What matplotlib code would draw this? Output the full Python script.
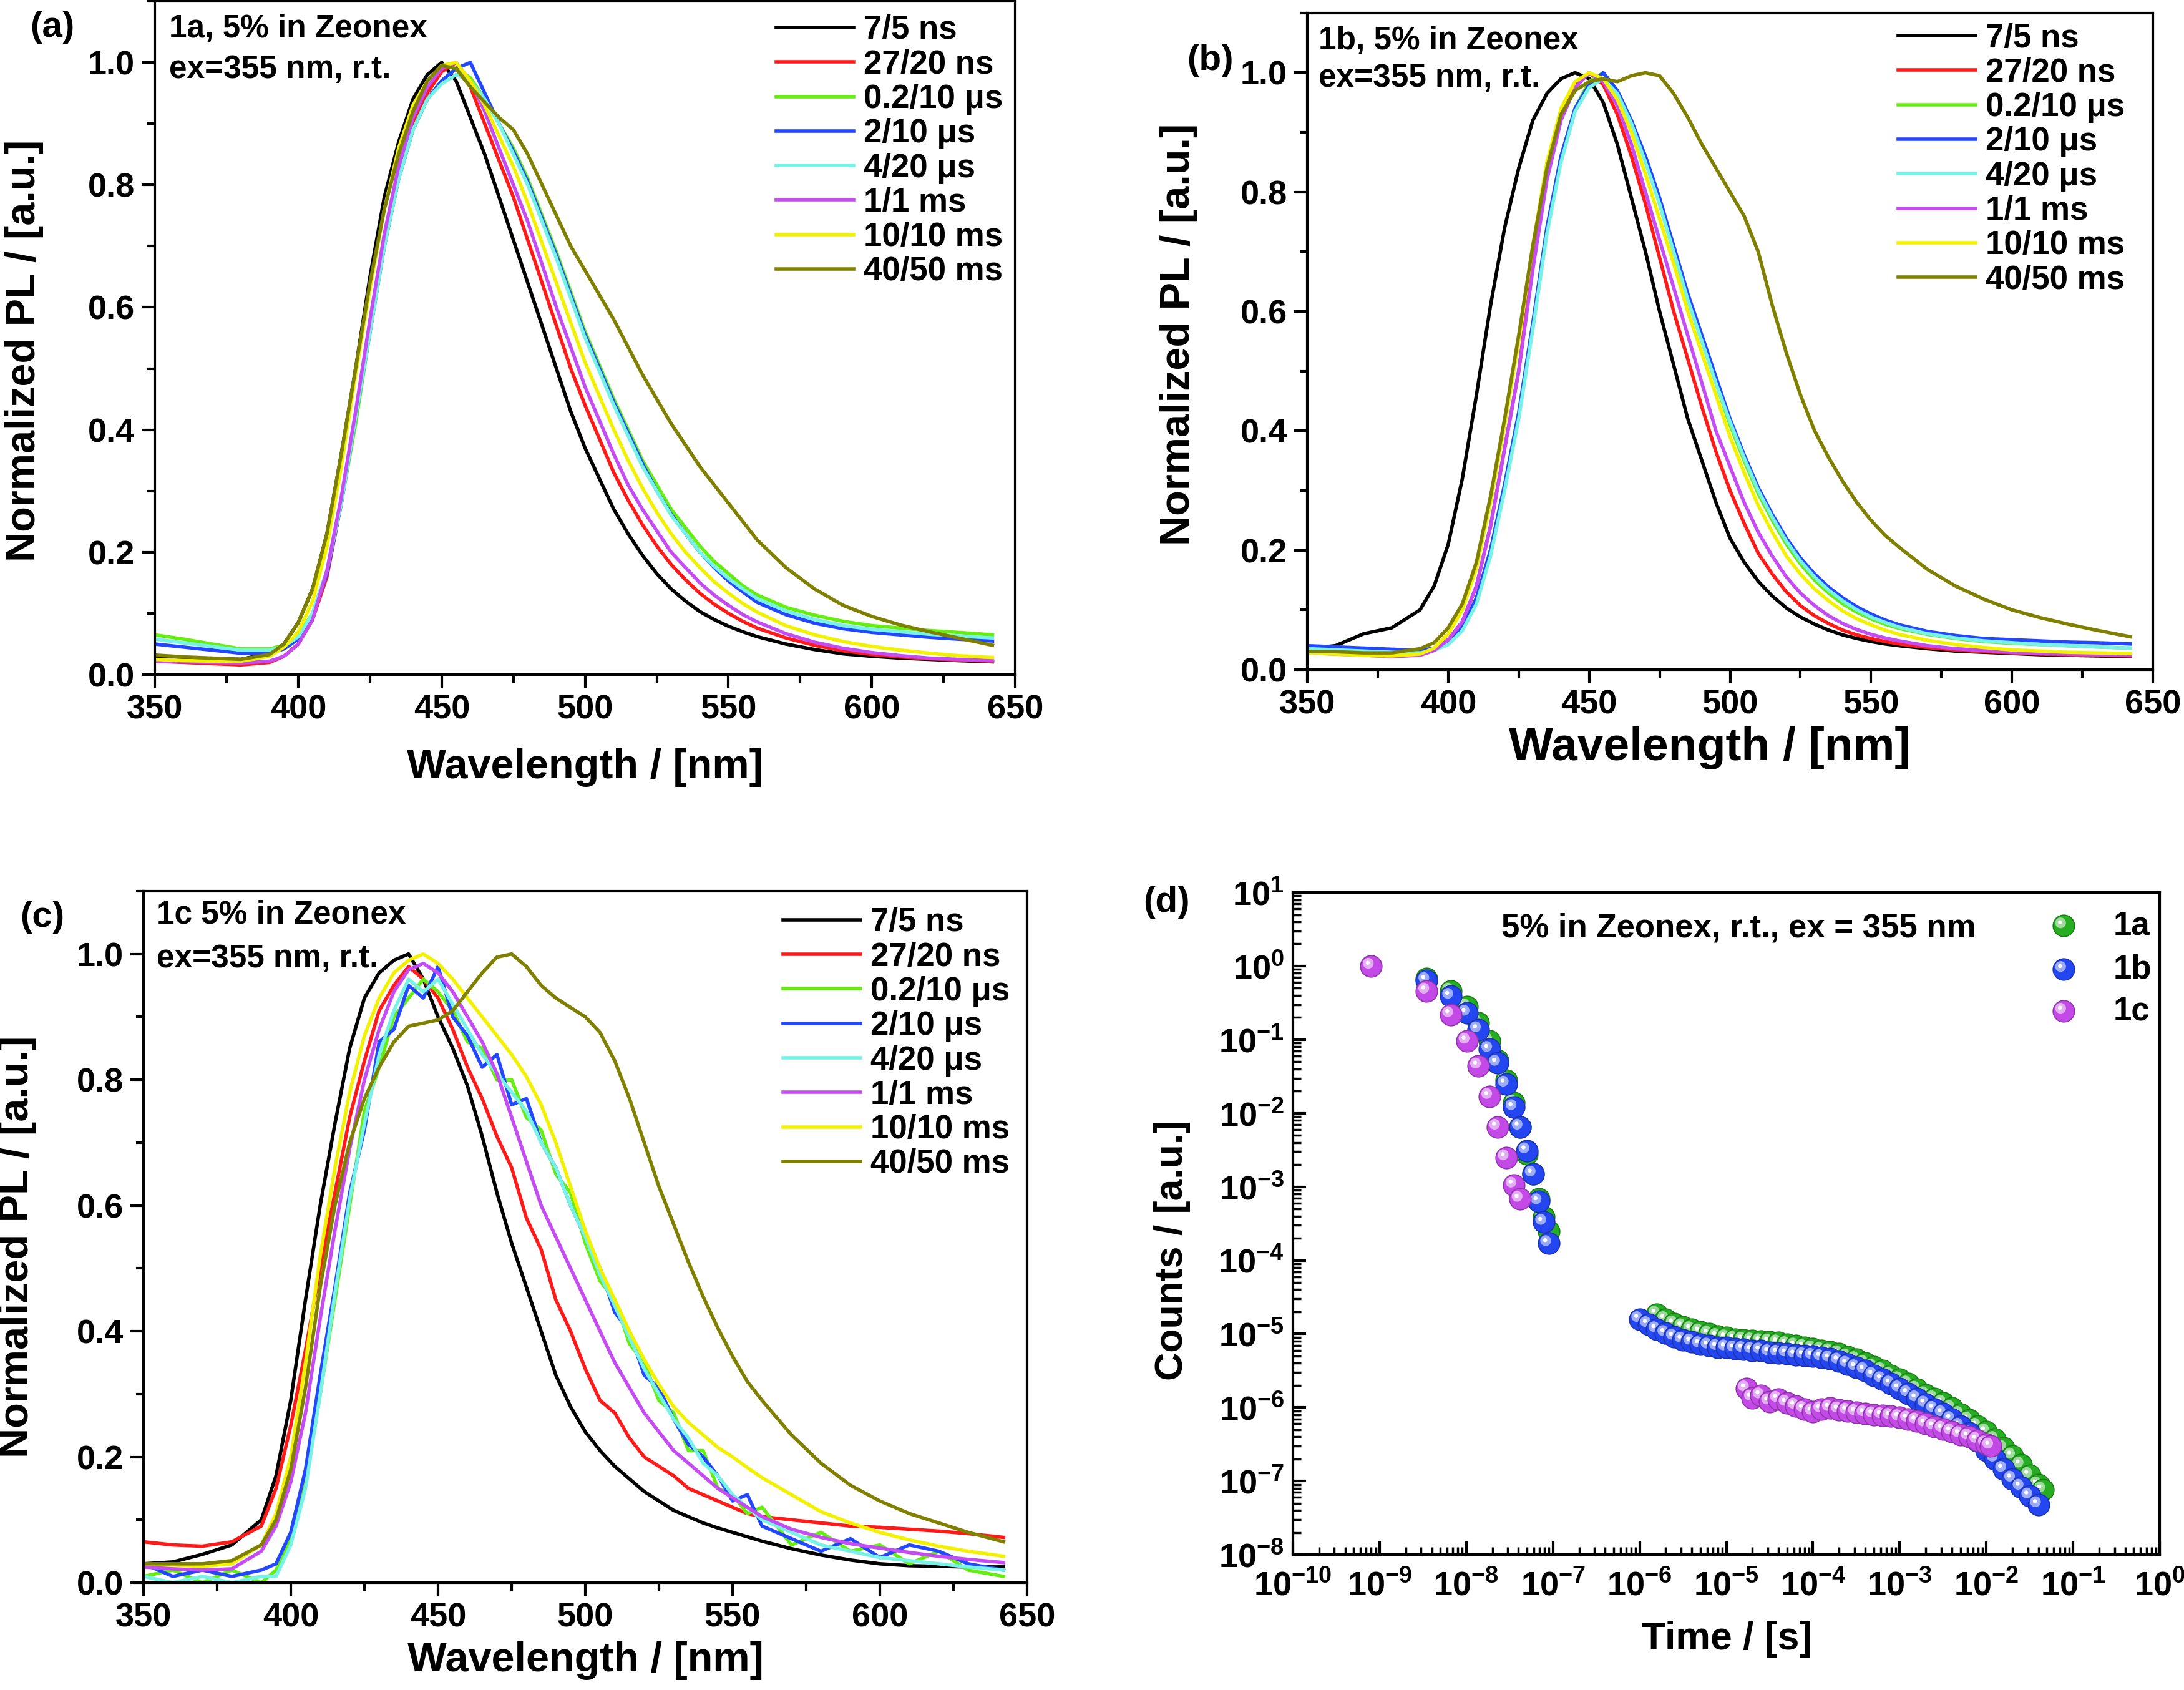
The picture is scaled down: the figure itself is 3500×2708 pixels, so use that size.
import numpy as np
import matplotlib
matplotlib.use("Agg")
import matplotlib.pyplot as plt
import matplotlib.colors as mcolors
import matplotlib.transforms as mtransforms
from matplotlib.ticker import MultipleLocator, LogLocator, NullFormatter, FormatStrFormatter

plt.rcParams['font.family'] = ['Liberation Sans', 'DejaVu Sans']
plt.rcParams['font.weight'] = 'bold'
plt.rcParams['mathtext.default'] = 'regular'
plt.rcParams['axes.linewidth'] = 3.0

# ---------------- spectra data ----------------
wl = [350, 360, 370, 380,
      390, 395, 400, 405, 410, 415, 420, 425, 430, 435, 440, 445, 450, 455, 460, 465, 470, 475,
      480, 485, 490, 495, 500, 505, 510, 515, 520, 525, 530, 535, 540, 545, 550, 555, 560,
      570, 580, 590, 600, 610, 620, 630, 642]

labels = ['7/5 ns', '27/20 ns', '0.2/10 μs', '2/10 μs', '4/20 μs', '1/1 ms', '10/10 ms', '40/50 ms']
line_colors = ['#000000', '#ff1a1a', '#66ee11', '#2347ff', '#77f2e6', '#c54cf2', '#f2f200', '#808000']

# panel (a) 1a
a_7ns = [0.030, 0.028, 0.026, 0.025,
         0.035, 0.050, 0.085, 0.14, 0.23, 0.36, 0.50, 0.65, 0.78, 0.87, 0.94, 0.98, 1.00, 0.97, 0.91, 0.85, 0.78, 0.71,
         0.64, 0.57, 0.50, 0.43, 0.37, 0.32, 0.27, 0.23, 0.195, 0.165, 0.14, 0.12, 0.103, 0.09, 0.079, 0.07, 0.062,
         0.050, 0.041, 0.034, 0.030, 0.027, 0.025, 0.023, 0.021]
a_27ns = [0.022, 0.020, 0.018, 0.016,
          0.020, 0.030, 0.050, 0.09, 0.16, 0.28, 0.42, 0.57, 0.71, 0.82, 0.90, 0.95, 0.985, 1.00, 0.96, 0.90, 0.84, 0.78,
          0.71, 0.64, 0.57, 0.50, 0.44, 0.385, 0.33, 0.285, 0.245, 0.21, 0.18, 0.155, 0.133, 0.115, 0.10, 0.087, 0.076,
          0.060, 0.048, 0.039, 0.033, 0.029, 0.026, 0.024, 0.022]
a_02us = [0.065, 0.058, 0.050, 0.042,
          0.042, 0.048, 0.065, 0.10, 0.17, 0.28, 0.41, 0.56, 0.70, 0.81, 0.89, 0.94, 0.97, 0.99, 0.975, 0.94, 0.90, 0.86,
          0.81, 0.75, 0.69, 0.625, 0.56, 0.505, 0.45, 0.40, 0.35, 0.31, 0.27, 0.24, 0.21, 0.185, 0.165, 0.145, 0.13,
          0.110, 0.097, 0.087, 0.080, 0.076, 0.072, 0.069, 0.065]
a_2us = [0.050, 0.045, 0.040, 0.035,
         0.035, 0.042, 0.058, 0.095, 0.165, 0.28, 0.42, 0.56, 0.70, 0.81, 0.89, 0.94, 0.97, 0.99, 1.00, 0.95, 0.90, 0.855,
         0.805, 0.745, 0.685, 0.62, 0.555, 0.50, 0.445, 0.395, 0.345, 0.30, 0.262, 0.23, 0.20, 0.175, 0.153, 0.135, 0.118,
         0.098, 0.084, 0.075, 0.069, 0.065, 0.061, 0.058, 0.055]
a_4us = [0.058, 0.052, 0.046, 0.040,
         0.040, 0.046, 0.062, 0.10, 0.17, 0.28, 0.42, 0.56, 0.70, 0.81, 0.89, 0.94, 0.965, 0.98, 0.97, 0.94, 0.90, 0.85,
         0.80, 0.74, 0.68, 0.615, 0.55, 0.495, 0.44, 0.39, 0.34, 0.30, 0.26, 0.23, 0.20, 0.177, 0.157, 0.14, 0.124,
         0.104, 0.090, 0.080, 0.074, 0.070, 0.066, 0.063, 0.060]
a_1ms = [0.022, 0.021, 0.020, 0.019,
         0.022, 0.030, 0.050, 0.09, 0.17, 0.29, 0.43, 0.58, 0.72, 0.83, 0.91, 0.96, 0.99, 1.00, 0.97, 0.92, 0.86, 0.80,
         0.74, 0.67, 0.60, 0.535, 0.47, 0.415, 0.36, 0.31, 0.27, 0.235, 0.20, 0.175, 0.15, 0.13, 0.113, 0.098, 0.086,
         0.067, 0.053, 0.043, 0.036, 0.031, 0.027, 0.025, 0.023]
a_10ms = [0.025, 0.023, 0.022, 0.022,
          0.030, 0.045, 0.070, 0.12, 0.21, 0.34, 0.49, 0.63, 0.76, 0.86, 0.93, 0.97, 0.995, 1.00, 0.97, 0.93, 0.88, 0.83,
          0.77, 0.705, 0.64, 0.575, 0.51, 0.455, 0.40, 0.35, 0.305, 0.265, 0.23, 0.20, 0.175, 0.152, 0.133, 0.116, 0.102,
          0.080, 0.065, 0.054, 0.046, 0.040, 0.035, 0.031, 0.028]
a_40ms = [0.032, 0.029, 0.027, 0.025,
          0.033, 0.050, 0.085, 0.14, 0.23, 0.36, 0.50, 0.64, 0.76, 0.85, 0.92, 0.97, 0.995, 0.99, 0.96, 0.935, 0.91, 0.89,
          0.85, 0.80, 0.75, 0.70, 0.66, 0.62, 0.58, 0.535, 0.49, 0.45, 0.41, 0.375, 0.34, 0.31, 0.28, 0.25, 0.22,
          0.175, 0.140, 0.113, 0.095, 0.081, 0.070, 0.060, 0.048]

# panel (b) 1b
b_7ns = [0.035, 0.040, 0.060, 0.070,
         0.10, 0.14, 0.21, 0.32, 0.46, 0.61, 0.74, 0.84, 0.92, 0.965, 0.99, 1.00, 0.99, 0.95, 0.88, 0.79, 0.70, 0.60,
         0.51, 0.42, 0.35, 0.28, 0.22, 0.18, 0.148, 0.123, 0.103, 0.088, 0.076, 0.066, 0.058, 0.052, 0.047, 0.043, 0.040,
         0.035, 0.031, 0.029, 0.027, 0.025, 0.024, 0.023, 0.022]
b_27ns = [0.030, 0.028, 0.025, 0.022,
          0.025, 0.035, 0.050, 0.08, 0.14, 0.24, 0.37, 0.50, 0.68, 0.83, 0.93, 0.98, 1.00, 0.98, 0.93, 0.86, 0.78, 0.69,
          0.60, 0.52, 0.44, 0.365, 0.30, 0.245, 0.195, 0.16, 0.13, 0.107, 0.09, 0.077, 0.066, 0.058, 0.052, 0.047, 0.043,
          0.037, 0.033, 0.030, 0.028, 0.026, 0.025, 0.024, 0.023]
b_02us = [0.035, 0.033, 0.030, 0.028,
          0.028, 0.033, 0.045, 0.07, 0.12, 0.20, 0.31, 0.43, 0.58, 0.74, 0.86, 0.94, 0.985, 1.00, 0.97, 0.92, 0.855, 0.78,
          0.70, 0.62, 0.55, 0.48, 0.41, 0.35, 0.295, 0.25, 0.21, 0.177, 0.15, 0.128, 0.11, 0.096, 0.085, 0.076, 0.069,
          0.059, 0.052, 0.047, 0.044, 0.042, 0.040, 0.038, 0.036]
b_2us = [0.040, 0.038, 0.036, 0.034,
         0.032, 0.036, 0.046, 0.07, 0.12, 0.20, 0.31, 0.43, 0.58, 0.74, 0.86, 0.94, 0.98, 1.00, 0.97, 0.92, 0.86, 0.79,
         0.71, 0.63, 0.56, 0.49, 0.42, 0.36, 0.305, 0.26, 0.22, 0.187, 0.16, 0.138, 0.12, 0.105, 0.093, 0.083, 0.075,
         0.064, 0.057, 0.052, 0.050, 0.048, 0.046, 0.045, 0.043]
b_4us = [0.035, 0.033, 0.031, 0.029,
         0.028, 0.032, 0.042, 0.065, 0.11, 0.19, 0.30, 0.42, 0.57, 0.73, 0.85, 0.935, 0.975, 0.99, 0.965, 0.915, 0.85, 0.78,
         0.70, 0.62, 0.55, 0.48, 0.415, 0.355, 0.30, 0.255, 0.215, 0.182, 0.155, 0.133, 0.115, 0.10, 0.088, 0.079, 0.071,
         0.060, 0.053, 0.048, 0.045, 0.042, 0.040, 0.038, 0.036]
b_1ms = [0.028, 0.026, 0.024, 0.022,
         0.024, 0.032, 0.050, 0.08, 0.14, 0.24, 0.37, 0.50, 0.67, 0.82, 0.92, 0.975, 1.00, 0.985, 0.945, 0.88, 0.80, 0.72,
         0.64, 0.56, 0.48, 0.40, 0.34, 0.28, 0.23, 0.19, 0.155, 0.128, 0.107, 0.09, 0.077, 0.067, 0.059, 0.053, 0.048,
         0.040, 0.035, 0.032, 0.029, 0.027, 0.026, 0.025, 0.024]
b_10ms = [0.028, 0.026, 0.024, 0.023,
          0.026, 0.036, 0.060, 0.10, 0.17, 0.28, 0.41, 0.55, 0.71, 0.85, 0.94, 0.985, 1.00, 0.99, 0.955, 0.90, 0.83, 0.755,
          0.68, 0.60, 0.53, 0.46, 0.39, 0.33, 0.275, 0.23, 0.19, 0.16, 0.135, 0.115, 0.098, 0.085, 0.075, 0.066, 0.059,
          0.049, 0.042, 0.037, 0.033, 0.031, 0.029, 0.028, 0.027]
b_40ms = [0.030, 0.030, 0.028, 0.028,
          0.035, 0.045, 0.070, 0.11, 0.18, 0.29, 0.42, 0.56, 0.71, 0.84, 0.93, 0.97, 0.985, 0.99, 0.985, 0.995, 1.00, 0.995,
          0.965, 0.925, 0.88, 0.84, 0.80, 0.76, 0.70, 0.61, 0.53, 0.46, 0.40, 0.355, 0.315, 0.28, 0.25, 0.225, 0.205,
          0.168, 0.140, 0.118, 0.100, 0.087, 0.076, 0.066, 0.055]

# panel (c) 1c
c_7ns = [0.030, 0.033, 0.045, 0.060,
         0.10, 0.17, 0.29, 0.45, 0.60, 0.73, 0.85, 0.93, 0.97, 0.99, 1.00, 0.96, 0.90, 0.85, 0.79, 0.71, 0.62, 0.54,
         0.47, 0.40, 0.33, 0.28, 0.24, 0.21, 0.185, 0.165, 0.145, 0.13, 0.115, 0.105, 0.095, 0.087, 0.08, 0.073, 0.066,
         0.054, 0.044, 0.036, 0.030, 0.027, 0.026, 0.025, 0.025]
c_27ns = [0.065, 0.060, 0.058, 0.065,
          0.09, 0.15, 0.25, 0.37, 0.50, 0.62, 0.74, 0.83, 0.91, 0.95, 0.98, 0.96, 0.93, 0.88, 0.82, 0.77, 0.71, 0.66,
          0.58, 0.53, 0.45, 0.40, 0.34, 0.29, 0.27, 0.23, 0.20, 0.185, 0.17, 0.15, 0.14, 0.13, 0.12, 0.11, 0.105,
          0.100, 0.095, 0.090, 0.088, 0.085, 0.082, 0.078, 0.072]
c_02us = [0.010, 0.020, 0.000, 0.020,
          0.00, 0.02, 0.07, 0.16, 0.30, 0.45, 0.60, 0.75, 0.82, 0.90, 0.93, 0.96, 0.94, 0.91, 0.86, 0.85, 0.80, 0.80,
          0.74, 0.72, 0.65, 0.62, 0.54, 0.48, 0.45, 0.38, 0.35, 0.29, 0.27, 0.21, 0.21, 0.15, 0.14, 0.11, 0.12,
          0.06, 0.08, 0.05, 0.06, 0.03, 0.05, 0.02, 0.01]
c_2us = [0.030, 0.010, 0.020, 0.010,
         0.02, 0.03, 0.08, 0.18, 0.33, 0.47, 0.62, 0.72, 0.86, 0.88, 0.95, 0.93, 0.98, 0.90, 0.87, 0.82, 0.84, 0.76,
         0.77, 0.70, 0.66, 0.60, 0.55, 0.50, 0.43, 0.40, 0.33, 0.31, 0.26, 0.22, 0.20, 0.17, 0.13, 0.14, 0.09,
         0.07, 0.05, 0.07, 0.04, 0.06, 0.05, 0.03, 0.02]
c_4us = [0.010, 0.000, 0.010, 0.000,
         0.01, 0.01, 0.06, 0.15, 0.30, 0.46, 0.61, 0.73, 0.84, 0.91, 0.96, 0.94, 0.96, 0.92, 0.88, 0.84, 0.81, 0.78,
         0.75, 0.70, 0.66, 0.60, 0.55, 0.49, 0.44, 0.39, 0.34, 0.30, 0.26, 0.23, 0.19, 0.17, 0.14, 0.12, 0.10,
         0.08, 0.06, 0.05, 0.04, 0.035, 0.03, 0.025, 0.02]
c_1ms = [0.025, 0.022, 0.020, 0.022,
         0.05, 0.09, 0.16, 0.27, 0.42, 0.56, 0.69, 0.80, 0.88, 0.94, 0.975, 0.985, 0.97, 0.94, 0.90, 0.86, 0.81, 0.74,
         0.67, 0.60, 0.55, 0.50, 0.45, 0.40, 0.35, 0.31, 0.27, 0.24, 0.21, 0.19, 0.17, 0.15, 0.135, 0.12, 0.105,
         0.085, 0.072, 0.062, 0.055, 0.048, 0.042, 0.037, 0.032]
c_10ms = [0.030, 0.028, 0.026, 0.030,
          0.06, 0.11, 0.20, 0.35, 0.52, 0.66, 0.78, 0.87, 0.93, 0.97, 0.99, 1.00, 0.985, 0.96, 0.93, 0.90, 0.87, 0.84,
          0.805, 0.76, 0.70, 0.63, 0.56, 0.50, 0.45, 0.40, 0.355, 0.315, 0.28, 0.255, 0.235, 0.215, 0.20, 0.183, 0.167,
          0.14, 0.113, 0.095, 0.080, 0.068, 0.058, 0.050, 0.042]
c_40ms = [0.030, 0.030, 0.030, 0.035,
          0.06, 0.10, 0.18, 0.31, 0.47, 0.60, 0.70, 0.77, 0.82, 0.86, 0.885, 0.89, 0.895, 0.91, 0.94, 0.97, 0.995, 1.00,
          0.98, 0.95, 0.93, 0.915, 0.90, 0.875, 0.83, 0.77, 0.70, 0.63, 0.57, 0.51, 0.455, 0.405, 0.36, 0.32, 0.29,
          0.235, 0.19, 0.155, 0.13, 0.11, 0.095, 0.08, 0.065]

panel_a = [a_7ns, a_27ns, a_02us, a_2us, a_4us, a_1ms, a_10ms, a_40ms]
panel_b = [b_7ns, b_27ns, b_02us, b_2us, b_4us, b_1ms, b_10ms, b_40ms]
panel_c = [c_7ns, c_27ns, c_02us, c_2us, c_4us, c_1ms, c_10ms, c_40ms]

# ---------------- decay data (panel d) ----------------
t_early = [3.5e-9, 6.6e-9, 1.02e-8, 1.38e-8, 1.86e-8, 2.29e-8, 2.88e-8, 3.55e-8, 4.17e-8,
           5.0e-8, 5.9e-8, 6.9e-8, 7.8e-8, 8.9e-8]
early_1a = [0.68, 0.46, 0.28, 0.17, 0.096, 0.052, 0.028, 0.014, 0.0065,
            0.0028, 0.0015, 6.8e-4, 3.9e-4, 2.5e-4]
early_1b = [0.64, 0.39, 0.23, 0.137, 0.074, 0.048, 0.025, 0.012, 0.0065,
            0.0031, 0.0015, 6.3e-4, 3.3e-4, 1.7e-4]
t_early_1c = [8.0e-10, 3.5e-9, 6.6e-9, 1.02e-8, 1.38e-8, 1.86e-8, 2.29e-8, 2.88e-8, 3.55e-8, 4.17e-8]
early_1c = [1.0, 0.46, 0.22, 0.096, 0.044, 0.017, 0.0065, 0.0025, 0.00106, 6.8e-4]

t_late_1a = [1.58e-6, 2.0e-6, 2.51e-6, 3.16e-6, 3.98e-6, 5.01e-6, 6.31e-6, 7.94e-6,
             1.0e-5, 1.26e-5, 1.58e-5, 2.0e-5, 2.51e-5, 3.16e-5, 3.98e-5, 5.01e-5, 6.31e-5, 7.94e-5,
             1.0e-4, 1.26e-4, 1.58e-4, 2.0e-4, 2.51e-4, 3.16e-4, 3.98e-4, 5.01e-4, 6.31e-4, 7.94e-4,
             1.0e-3, 1.26e-3, 1.58e-3, 2.0e-3, 2.51e-3, 3.16e-3, 3.98e-3, 5.01e-3, 6.31e-3, 7.94e-3,
             1.0e-2, 1.26e-2, 1.58e-2, 2.0e-2, 2.51e-2, 3.16e-2, 3.98e-2, 4.47e-2]
late_1a = [1.86e-5, 1.58e-5, 1.38e-5, 1.26e-5, 1.15e-5, 1.07e-5, 1.0e-5, 9.3e-6,
           8.9e-6, 8.5e-6, 8.3e-6, 8.1e-6, 7.9e-6, 7.8e-6, 7.6e-6, 7.2e-6, 6.9e-6, 6.6e-6,
           6.3e-6, 6.0e-6, 5.75e-6, 5.4e-6, 4.9e-6, 4.5e-6, 4.0e-6, 3.55e-6, 3.2e-6, 2.75e-6,
           2.4e-6, 2.1e-6, 1.78e-6, 1.5e-6, 1.32e-6, 1.15e-6, 9.8e-7, 8.1e-7, 6.8e-7, 5.6e-7,
           4.7e-7, 3.7e-7, 2.8e-7, 2.2e-7, 1.66e-7, 1.2e-7, 8.9e-8, 7.6e-8]

t_late_1b = [1.0e-6, 1.26e-6, 1.58e-6, 2.0e-6, 2.51e-6, 3.16e-6, 3.98e-6, 5.01e-6, 6.31e-6, 7.94e-6,
             1.0e-5, 1.26e-5, 1.58e-5, 2.0e-5, 2.51e-5, 3.16e-5, 3.98e-5, 5.01e-5, 6.31e-5, 7.94e-5,
             1.0e-4, 1.26e-4, 1.58e-4, 2.0e-4, 2.51e-4, 3.16e-4, 3.98e-4, 5.01e-4, 6.31e-4, 7.94e-4,
             1.0e-3, 1.26e-3, 1.58e-3, 2.0e-3, 2.51e-3, 3.16e-3, 3.98e-3, 5.01e-3, 6.31e-3, 7.94e-3,
             1.0e-2, 1.26e-2, 1.58e-2, 2.0e-2, 2.51e-2, 3.16e-2, 3.98e-2]
late_1b = [1.58e-5, 1.35e-5, 1.15e-5, 1.02e-5, 9.1e-6, 8.3e-6, 7.8e-6, 7.2e-6, 6.9e-6, 6.6e-6,
           6.5e-6, 6.3e-6, 6.2e-6, 6.0e-6, 5.9e-6, 5.6e-6, 5.5e-6, 5.4e-6, 5.2e-6, 5.1e-6,
           5.0e-6, 4.8e-6, 4.6e-6, 4.3e-6, 3.9e-6, 3.5e-6, 3.2e-6, 2.75e-6, 2.4e-6, 2.1e-6,
           1.8e-6, 1.55e-6, 1.32e-6, 1.12e-6, 9.5e-7, 8.3e-7, 6.9e-7, 5.6e-7, 4.5e-7, 3.5e-7,
           2.6e-7, 2.0e-7, 1.45e-7, 1.07e-7, 8.3e-8, 6.3e-8, 4.8e-8]

t_late_1c = [1.7e-5, 2.0e-5, 2.51e-5, 3.16e-5, 3.98e-5, 5.01e-5, 6.31e-5, 7.94e-5,
             1.0e-4, 1.26e-4, 1.58e-4, 2.0e-4, 2.51e-4, 3.16e-4, 3.98e-4, 5.01e-4, 6.31e-4, 7.94e-4,
             1.0e-3, 1.26e-3, 1.58e-3, 2.0e-3, 2.51e-3, 3.16e-3, 3.98e-3, 5.01e-3, 6.31e-3, 7.94e-3,
             1.0e-2, 1.12e-2]
late_1c = [1.8e-6, 1.35e-6, 1.45e-6, 1.2e-6, 1.3e-6, 1.15e-6, 1.05e-6, 9.5e-7,
           8.7e-7, 9.4e-7, 9.8e-7, 9.3e-7, 9.0e-7, 8.6e-7, 8.3e-7, 8.0e-7, 7.8e-7, 7.6e-7,
           7.3e-7, 7.0e-7, 6.6e-7, 6.0e-7, 5.5e-7, 5.1e-7, 4.7e-7, 4.3e-7, 4.0e-7, 3.6e-7,
           3.2e-7, 3.0e-7]

sphere_colors = {'1a': '#26ad22', '1b': '#2446f0', '1c': '#c44ae8'}


def spectra(ax, series, note, note_x, note_y, leg_xy, xlab_xy, xlab_size, ylab_x, ylab_y):
    for y, lab, col in zip(series, labels, line_colors):
        ax.plot(wl, y, color=col, lw=4, label=lab)
    ax.set_xlim(350, 650)
    ax.set_ylim(0, 1.1)
    ax.xaxis.set_major_locator(MultipleLocator(50))
    ax.xaxis.set_minor_locator(MultipleLocator(25))
    ax.yaxis.set_major_locator(MultipleLocator(0.2))
    ax.yaxis.set_minor_locator(MultipleLocator(0.1))
    ax.yaxis.set_major_formatter(FormatStrFormatter('%.1f'))
    ax.tick_params(which='major', direction='out', length=15, width=3, labelsize=39, pad=8)
    ax.tick_params(which='minor', direction='out', length=9, width=3)
    ax.set_xlabel('Wavelength / [nm]', fontsize=xlab_size, fontweight='bold')
    ax.set_ylabel('Normalized PL / [a.u.]', fontsize=48, fontweight='bold')
    ax.xaxis.set_label_coords(*xlab_xy)
    ax.yaxis.set_label_coords(ylab_x, ylab_y)
    for line, yy in zip(note, note_y):
        ax.text(note_x, yy, line, transform=ax.transAxes, fontsize=37, va='center', ha='left')
    ax.legend(loc='upper left', bbox_to_anchor=leg_xy, frameon=False, fontsize=38,
              handlelength=2.35, handletextpad=0.3, labelspacing=0.1, borderpad=0, borderaxespad=0)


def spheres(ax, t, c, color, z, transform=None, size=620):
    base = np.array(mcolors.to_rgb(color))
    mid = 0.45 * base + 0.55
    rim = 0.72 * base
    tr = ax.transData if transform is None else transform
    hi1 = mtransforms.offset_copy(tr, fig=ax.figure, x=-3.4, y=3.2, units='points')
    hi2 = mtransforms.offset_copy(tr, fig=ax.figure, x=-4.0, y=3.8, units='points')
    for i, (ti, ci) in enumerate(zip(t, c)):
        zz = z + i * 0.003
        ax.scatter([ti], [ci], s=size, color=base, edgecolors=[rim], linewidths=1.2,
                   transform=tr, zorder=zz, clip_on=False)
        ax.scatter([ti], [ci], s=size * 0.25, color=mid, edgecolors='none',
                   transform=hi1, zorder=zz + 0.001, clip_on=False)
        ax.scatter([ti], [ci], s=size * 0.035, color='white', edgecolors='none',
                   transform=hi2, zorder=zz + 0.002, clip_on=False)


fig = plt.figure(figsize=(35, 27.08), dpi=100)

ax_a = fig.add_axes([0.0709, 0.6008, 0.394, 0.3985])
spectra(ax_a, panel_a, ['1a, 5% in Zeonex', 'ex=355 nm, r.t.'], 0.0167, [0.959, 0.898],
        (0.722, 0.98), (0.5, -0.109), 48, -0.129, 0.481)

ax_b = fig.add_axes([0.5986, 0.6038, 0.3871, 0.3885])
spectra(ax_b, panel_b, ['1b, 5% in Zeonex', 'ex=355 nm, r.t.'], 0.013, [0.958, 0.901],
        (0.699, 0.985), (0.476, -0.087), 54, -0.129, 0.51)

ax_c = fig.add_axes([0.0657, 0.0635, 0.4046, 0.4092])
spectra(ax_c, panel_c, ['1c 5% in Zeonex', 'ex=355 nm, r.t.'], 0.015, [0.966, 0.902],
        (0.724, 0.977), (0.5, -0.085), 48, -0.121, 0.486)

# ---- panel (d): decay ----
ax_d = fig.add_axes([0.592, 0.0801, 0.3969, 0.3918])
ax_d.set_xscale('log')
ax_d.set_yscale('log')
spheres(ax_d, t_early, early_1a, sphere_colors['1a'], 3)
spheres(ax_d, t_late_1a, late_1a, sphere_colors['1a'], 3.3)
spheres(ax_d, t_early, early_1b, sphere_colors['1b'], 4)
spheres(ax_d, t_late_1b, late_1b, sphere_colors['1b'], 4.3)
spheres(ax_d, t_early_1c, early_1c, sphere_colors['1c'], 5)
spheres(ax_d, t_late_1c, late_1c, sphere_colors['1c'], 5.3)
ax_d.set_xlim(1e-10, 1)
ax_d.set_ylim(1e-8, 10)
for axis in (ax_d.xaxis, ax_d.yaxis):
    axis.set_major_locator(LogLocator(base=10, numticks=30))
    axis.set_minor_locator(LogLocator(base=10, subs=np.arange(2, 10), numticks=30))
    axis.set_minor_formatter(NullFormatter())
ax_d.tick_params(which='major', direction='in', length=15, width=3, labelsize=39, pad=10)
ax_d.tick_params(which='minor', direction='in', length=9, width=2.5)
ax_d.tick_params(axis='x', which='major', pad=18)
ax_d.set_xlabel('Time / [s]', fontsize=45, fontweight='bold')
ax_d.set_ylabel('Counts / [a.u.]', fontsize=45, fontweight='bold')
ax_d.xaxis.set_label_coords(0.501, -0.1)
ax_d.yaxis.set_label_coords(-0.118, 0.46)
ax_d.text(0.514, 0.946, '5% in Zeonex, r.t., ex = 355 nm', transform=ax_d.transAxes,
          fontsize=38, ha='center', va='center')
for name, yy in zip(['1a', '1b', '1c'], [0.950, 0.884, 0.821]):
    spheres(ax_d, [0.889], [yy], sphere_colors[name], 8, transform=ax_d.transAxes)
    ax_d.text(0.946, yy, name, transform=ax_d.transAxes, fontsize=38, ha='left', va='center')

# panel letters
for letter, x, y in [('(a)', 0.024, 0.9838), ('(b)', 0.554, 0.964),
                     ('(c)', 0.0194, 0.4572), ('(d)', 0.534, 0.466)]:
    fig.text(x, y, letter, fontsize=42, fontweight='bold', ha='center', va='center')

fig.savefig('out.png', dpi=100)
